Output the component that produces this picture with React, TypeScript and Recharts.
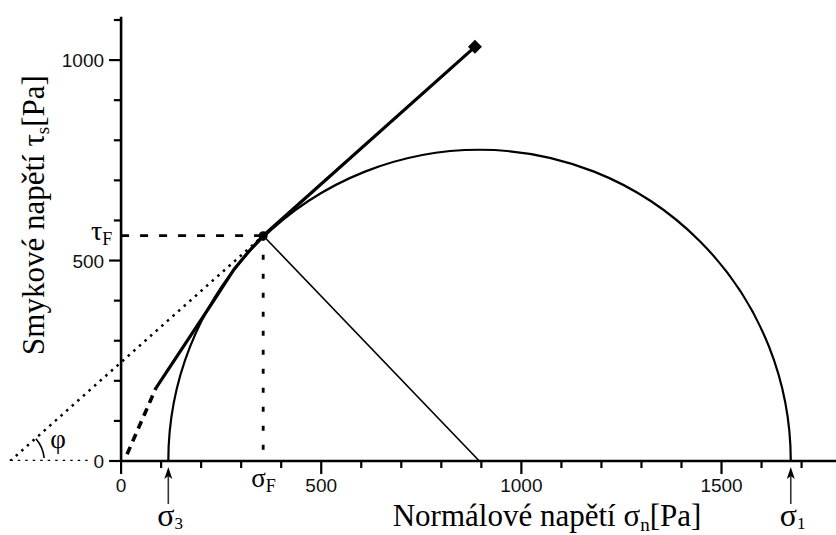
import React from "react";
import {
  ComposedChart,
  Line,
  Scatter,
  XAxis,
  YAxis,
  ReferenceLine,
  ReferenceDot,
} from "recharts";

const serif = "'Liberation Serif', 'Times New Roman', serif";
const sans = "'Liberation Sans', Arial, sans-serif";

// axis ticks
const X_TICKS = [0, 100, 200, 300, 400, 500, 600, 700, 800, 900, 1000, 1100, 1200, 1300, 1400, 1500, 1600, 1700];
const Y_TICKS = [0, 100, 200, 300, 400, 500, 600, 700, 800, 900, 1000, 1100];
const Y_LABELS = [0, 500, 1000];

// Mohr circle ends (sigma3, sigma1) and centre
const MOHR = [
  { x: 118, y: 0 },
  { x: 1673, y: 0 },
];
const CENTER_X = 895;

// failure point F
const FAIL = [{ x: 355, y: 562 }];
// failure envelope, solid part and dashed extension towards origin
const ENVELOPE = [
  { x: 87, y: 182 },
  { x: 234, y: 404 },
  { x: 282, y: 478 },
  { x: 320, y: 524 },
  { x: 355, y: 562 },
  { x: 884, y: 1033 },
];
const ENVELOPE_EXT = [
  { x: 15, y: 17 },
  { x: 87, y: 182 },
];
const END_MARK = [{ x: 884, y: 1033 }];
// friction angle construction
const PHI_LINE = [
  { x: -277, y: 0 },
  { x: 355, y: 562 },
];
const PHI_BASE = [
  { x: -277, y: 0 },
  { x: -75, y: 0 },
];
const RADIUS = [
  { x: 355, y: 562 },
  { x: CENTER_X, y: 0 },
];
const TAU_GUIDE = [
  { x: 0, y: 562 },
  { x: 355, y: 562 },
];
const SIGMA_GUIDE = [
  { x: 355, y: 562 },
  { x: 355, y: 0 },
];

function XTick({ x, y, payload }: any) {
  const v = payload.value;
  const major = v % 500 === 0;
  return (
    <g>
      <line x1={x} x2={x} y1={y} y2={y + (major ? 13 : 7)} stroke="#000" strokeWidth={2.2} />
      {major && (
        <text x={x} y={y + 31} textAnchor="middle" fontSize={19} fontFamily={sans} fill="#111">
          {v}
        </text>
      )}
    </g>
  );
}

function semicircle(props: any) {
  const { index, points } = props;
  if (index !== 0 || !points || points.length < 2) return <g key={`m-${index}`} />;
  const a = points[0];
  const b = points[1];
  const r = (b.x - a.x) / 2;
  return (
    <path
      key="mohr"
      d={`M${a.x},${a.y} A${r},${r} 0 0 1 ${b.x},${b.y}`}
      fill="none"
      stroke="#000"
      strokeWidth={2.2}
    />
  );
}

function principal(sub: string) {
  return ({ cx, cy }: any) => (
    <g>
      <line x1={cx} x2={cx} y1={cy + 14} y2={cy + 43} stroke="#333" strokeWidth={1.6} />
      <path d={`M${cx},${cy + 6} L${cx + 4},${cy + 18} L${cx},${cy + 15} L${cx - 4},${cy + 18} Z`} fill="#000" />
      <text x={cx - 11} y={cy + 65} fontFamily={serif} fontSize={32} fill="#000">
        σ<tspan fontSize={17} dy={3}>{sub}</tspan>
      </text>
    </g>
  );
}

function titles({ viewBox }: any) {
  const { x, y } = viewBox;
  return (
    <g fontFamily={serif} fill="#000">
      <text x={x + 538} y={y + 65} textAnchor="middle" fontSize={31}>
        Normálové napětí σ<tspan fontSize={19} dy={5}>n</tspan>
        <tspan dy={-5}>[Pa]</tspan>
      </text>
      <text x={x + 35} y={y - 246} textAnchor="middle" fontSize={31} transform={`rotate(-90 ${x + 35} ${y - 246})`}>
        Smykové napětí τ<tspan fontSize={19} dy={5}>s</tspan>
        <tspan dy={-5}>[Pa]</tspan>
      </text>
    </g>
  );
}

export default function App() {
  return (
    <div style={{ position: "absolute", left: 0, top: 0, width: 836, height: 535, background: "#fff" }}>
      <ComposedChart width={836} height={535} margin={{ top: 16, right: 0, bottom: 44, left: 9 }}>
        <XAxis
          type="number"
          dataKey="x"
          domain={[-280, 1786]}
          allowDataOverflow
          ticks={X_TICKS}
          interval={0}
          axisLine={false}
          tickLine={false}
          tickSize={0}
          tickMargin={0}
          height={30}
          tick={<XTick />}
          label={titles}
        />
        <YAxis type="number" dataKey="y" domain={[0, 1110]} allowDataOverflow hide />

        {/* axes drawn at x = 0 */}
        <ReferenceLine segment={[{ x: 0, y: 0 }, { x: 0, y: 1108 }]} stroke="#000" strokeWidth={2.6} />
        <ReferenceLine segment={[{ x: 0, y: 0 }, { x: 1786, y: 0 }]} stroke="#000" strokeWidth={2.6} />
        {Y_TICKS.map((v) => (
          <ReferenceLine
            key={`yt-${v}`}
            segment={[{ x: v % 500 === 0 ? -30 : -18, y: v }, { x: 0, y: v }]}
            stroke="#000"
            strokeWidth={2.2}
          />
        ))}
        {Y_LABELS.map((v) => (
          <ReferenceDot
            key={`yl-${v}`}
            x={0}
            y={v}
            ifOverflow="visible"
            shape={({ cx, cy }: any) => (
              <text x={cx - 17} y={cy + 7} textAnchor="end" fontSize={19} fontFamily={sans} fill="#111">
                {v}
              </text>
            )}
          />
        ))}

        <Line data={MOHR} dataKey="y" stroke="none" dot={semicircle} activeDot={false} isAnimationActive={false} />
        <Line data={RADIUS} dataKey="y" stroke="#000" strokeWidth={1.6} dot={false} isAnimationActive={false} />
        <Line data={PHI_LINE} dataKey="y" stroke="#000" strokeWidth={2.5} strokeDasharray="2.5 5" dot={false} isAnimationActive={false} />
        <Line data={PHI_BASE} dataKey="y" stroke="#000" strokeWidth={2.5} strokeDasharray="2.5 5" dot={false} isAnimationActive={false} />
        <Line data={TAU_GUIDE} dataKey="y" stroke="#000" strokeWidth={2.8} strokeDasharray="8 11" dot={false} isAnimationActive={false} />
        <Line data={SIGMA_GUIDE} dataKey="y" stroke="#000" strokeWidth={2.8} strokeDasharray="5 14" dot={false} isAnimationActive={false} />
        <Line data={ENVELOPE} dataKey="y" type="linear" stroke="#000" strokeWidth={3.2} dot={false} isAnimationActive={false} />
        <Line data={ENVELOPE_EXT} dataKey="y" stroke="#000" strokeWidth={3.6} strokeDasharray="8 6" dot={false} isAnimationActive={false} />
        <Scatter
          data={END_MARK}
          isAnimationActive={false}
          shape={({ cx, cy }: any) => (
            <path d={`M${cx},${cy - 7} L${cx + 7},${cy} L${cx},${cy + 7} L${cx - 7},${cy} Z`} fill="#000" />
          )}
        />
        <Scatter
          data={FAIL}
          isAnimationActive={false}
          shape={({ cx, cy }: any) => <circle cx={cx} cy={cy} r={4.5} fill="#000" />}
        />

        {/* annotations */}
        <ReferenceDot x={MOHR[0].x} y={0} ifOverflow="visible" shape={principal("3")} />
        <ReferenceDot x={MOHR[1].x} y={0} ifOverflow="visible" shape={principal("1")} />
        <ReferenceDot
          x={FAIL[0].x}
          y={0}
          ifOverflow="visible"
          shape={({ cx, cy }: any) => (
            <text x={cx - 12} y={cy + 26} fontFamily={serif} fontSize={27} fill="#000">
              σ<tspan fontSize={18} dy={5}>F</tspan>
            </text>
          )}
        />
        <ReferenceDot
          x={0}
          y={FAIL[0].y}
          ifOverflow="visible"
          shape={({ cx, cy }: any) => (
            <text x={cx - 30} y={cy + 4} fontFamily={serif} fontSize={28} fill="#000">
              τ<tspan fontSize={18} dy={5}>F</tspan>
            </text>
          )}
        />
        <ReferenceDot
          x={PHI_LINE[0].x}
          y={0}
          ifOverflow="visible"
          shape={({ cx, cy }: any) => (
            <g>
              <path
                d={`M${cx + 33.9},${cy - 3} A34,34 0 0 0 ${cx + 25.7},${cy - 22.3}`}
                fill="none"
                stroke="#000"
                strokeWidth={1.6}
              />
              <text x={cx + 40} y={cy - 13} fontFamily={serif} fontSize={27} fill="#000">
                φ
              </text>
            </g>
          )}
        />
      </ComposedChart>
    </div>
  );
}
